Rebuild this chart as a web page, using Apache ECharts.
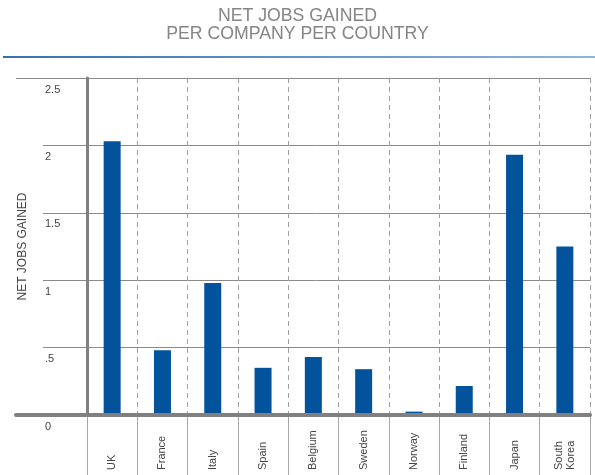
<!DOCTYPE html>
<html>
<head>
<meta charset="utf-8">
<script src="https://cdn.jsdelivr.net/npm/echarts@6/dist/echarts.min.js"></script>
<style>
  html, body { margin: 0; padding: 0; background: #ffffff; }
  #chart { width: 595px; height: 475px; }
</style>
</head>
<body>
<div id="chart"></div>
<script>
// Chart data
const countries = ['UK', 'France', 'Italy', 'Spain', 'Belgium', 'Sweden', 'Norway', 'Finland', 'Japan', 'South Korea'];
const netJobsGained = [2.03, 0.48, 0.98, 0.35, 0.43, 0.34, 0.025, 0.215, 1.93, 1.25];
const yTickLabels = ['0', '.5', '1', '1.5', '2', '2.5'];
const titleLines = ['NET JOBS GAINED', 'PER COMPANY PER COUNTRY'];
const yAxisTitle = 'NET JOBS GAINED';

const FONT = '"Liberation Sans", Arial, Helvetica, sans-serif';
const Y_MAX = 2.5;
const Y_STEP = 0.5;

// three stacked grids share the same vertical extent:
// 0 = outer frame lines (top rule + thick baseline), 1 = tick grid lines + labels, 2 = bars
const gridBox = { top: 78, bottom: 60, right: 5, containLabel: false, outerBoundsMode: 'none' };

const chart = echarts.init(document.getElementById('chart'), null, { renderer: 'canvas' });

const titleStyle = {
  fontFamily: FONT,
  fontSize: 17.7,
  fontWeight: 'normal',
  color: '#858585'
};

chart.setOption({
  animation: false,
  backgroundColor: '#ffffff',
  textStyle: { fontFamily: FONT },
  title: titleLines.map(function (line, i) {
    return { text: line, left: 'center', top: 7 + i * 18, padding: 0, textStyle: titleStyle };
  }),
  graphic: [{
    type: 'rect',
    shape: { x: 3, y: 56, width: 592, height: 2 },
    style: {
      fill: new echarts.graphic.LinearGradient(0, 0, 1, 0, [
        { offset: 0, color: '#3471b4' },
        { offset: 1, color: '#8cb6de' }
      ])
    },
    silent: true
  }],
  grid: [
    Object.assign({ left: 16 }, gridBox),
    Object.assign({ left: 43 }, gridBox),
    Object.assign({ left: 87 }, gridBox)
  ],
  xAxis: [
    {
      gridIndex: 0, type: 'value', min: 0, max: 1, z: 4,
      axisLine: { show: true, lineStyle: { color: '#808080', width: 4 } },
      axisTick: { show: false }, axisLabel: { show: false }, splitLine: { show: false }
    },
    {
      gridIndex: 1, type: 'value', min: 0, max: 1, show: false
    },
    {
      gridIndex: 2, type: 'category', data: countries, boundaryGap: true,
      axisLine: { show: false },
      axisTick: { show: true, interval: 0, length: 60, lineStyle: { color: '#a8a8a8', width: 1 } },
      splitLine: { show: true, interval: 0, lineStyle: { color: '#a0a0a0', width: 1, type: [5, 4] } },
      axisLabel: {
        interval: 0, rotate: 90, align: 'left', verticalAlign: 'middle', margin: 55,
        fontFamily: FONT, fontSize: 11, color: '#444444', lineHeight: 12.5,
        padding: [0, 0, 7, 0],
        formatter: function (name) { return name.replace(' ', '\n'); }
      }
    }
  ],
  yAxis: [
    {
      gridIndex: 0, type: 'value', min: 0, max: Y_MAX, interval: Y_MAX,
      axisLine: { show: false }, axisTick: { show: false }, axisLabel: { show: false },
      splitLine: { show: true, lineStyle: { color: '#8a8a8a', width: 1 } }
    },
    {
      gridIndex: 1, type: 'value', min: 0, max: Y_MAX, interval: Y_STEP,
      axisLine: { show: false }, axisTick: { show: false },
      splitLine: { show: true, lineStyle: { color: '#8a8a8a', width: 1 } },
      axisLabel: {
        show: true, align: 'left', verticalAlign: 'top', margin: -2,
        padding: [6, 0, 0, 0],
        fontFamily: FONT, fontSize: 11, color: '#444444',
        formatter: function (v) { return yTickLabels[Math.round(v / Y_STEP)]; }
      }
    },
    {
      gridIndex: 2, type: 'value', min: 0, max: Y_MAX, interval: Y_STEP, z: 4,
      axisLine: { show: true, lineStyle: { color: '#808080', width: 3 } },
      axisTick: { show: false }, axisLabel: { show: false }, splitLine: { show: false },
      name: yAxisTitle, nameLocation: 'middle', nameRotate: 90, nameGap: 58,
      nameTextStyle: { fontFamily: FONT, fontSize: 12, color: '#444444' }
    }
  ],
  series: [{
    type: 'bar',
    xAxisIndex: 2,
    yAxisIndex: 2,
    data: netJobsGained,
    barWidth: 17,
    itemStyle: { color: '#02539c' }
  }]
});
</script>
</body>
</html>
